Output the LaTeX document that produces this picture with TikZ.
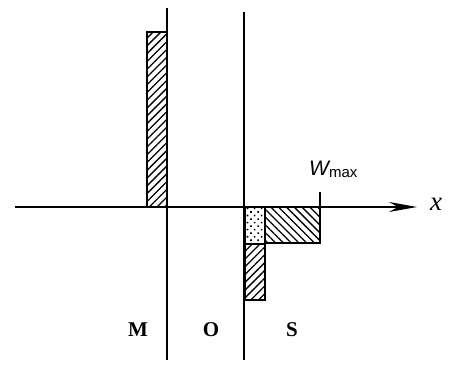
\documentclass[tikz,border=0pt]{standalone}
\usepackage{fontspec}
\setmainfont{Liberation Serif}
\setsansfont{Liberation Sans}
\usepackage{tikz}
\usetikzlibrary{positioning, arrows.meta, patterns.meta, calc}

\begin{document}
\begin{tikzpicture}[
		x=1pt, y=-1pt,
		% --- ESTILOS ---
		axisline/.style={
			draw, line width=1.4pt, -{Stealth[length=28pt, width=10pt, inset=9pt]}
		},
		border/.style={
			draw, line width=1.4pt
		},
		chargebox/.style={
			draw, line width=1.2pt
		},
		hatchup/.style={
			pattern={Lines[angle=45, distance=5.5pt, line width=1.3pt]}
		},
		hatchdown/.style={
			pattern={Lines[angle=-45, distance=5.5pt, line width=1.3pt]}
		},
		dotted box/.style={
			pattern={Dots[angle=45, distance=5pt, radius=1.1pt]}
		},
		layerlabel/.style={
			font=\fontsize{21}{24}\selectfont\bfseries, inner sep=0pt
		}
		]
		\useasboundingbox (0,0) rectangle (454,364);
		
		% --- 1. Eje x ---
		\coordinate (x_start) at (15,207);
		\coordinate (x_end) at (417,207);
		\draw [axisline] (x_start) -- (x_end);
		\node [font=\fontsize{27}{28}\selectfont\itshape, inner sep=0pt] (x_lbl) at (436,204) {x};
		
		% --- 2. Interfaces M/O y O/S ---
		\coordinate (mo_top) at (167,8);
		\coordinate (mo_bot) at (167,360);
		\coordinate (os_top) at (244,12);
		\coordinate (os_bot) at (244,360);
		\draw [border] (mo_top) -- (mo_bot);
		\draw [border] (os_top) -- (os_bot);
		
		% --- 3. Carga en el metal ---
		\draw [chargebox, hatchup] (147,32) rectangle (167,207);
		
		% --- 4. Carga en el semiconductor ---
		\draw [chargebox, dotted box] (245,207) rectangle (265,244);
		\draw [chargebox, hatchup] (245,244) rectangle (265,300);
		\draw [chargebox, hatchdown] (265,207) rectangle (320,243);
		
		% --- 5. Marca W_max ---
		\coordinate (w_tick) at (320,192);
		\coordinate (w_base) at (320,207);
		\draw [chargebox] (w_tick) -- (w_base);
		\node [font=\sffamily, inner sep=0pt, anchor=base west] (w_lbl) at (309,175)
			{\fontsize{21}{22}\selectfont\itshape W\fontsize{15}{16}\selectfont\upshape\raisebox{-2pt}{max}};
		
		% --- 6. Etiquetas de capas ---
		\node [layerlabel] (m_lbl) at (138,330) {M};
		\node [layerlabel] (o_lbl) at (211,330) {O};
		\node [layerlabel] (s_lbl) at (292,330) {S};
		
	\end{tikzpicture}
\end{document}
